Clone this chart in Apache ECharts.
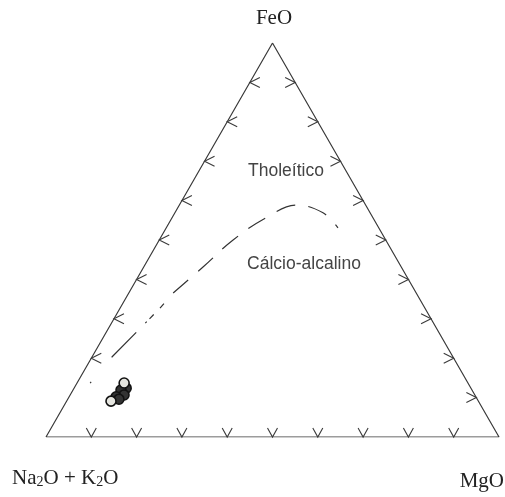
<!DOCTYPE html>
<html>
<head>
<meta charset="utf-8">
<script src="https://cdn.jsdelivr.net/npm/echarts@6/dist/echarts.min.js"></script>
<style>
  html, body { margin: 0; padding: 0; background: #fff; }
  #chart { width: 505px; height: 497px; }
</style>
</head>
<body>
<div id="chart"></div>
<script>
// AFM ternary diagram: A = Na2O + K2O, F = FeO, M = MgO (percent of A+F+M)

// Corner order: A (bottom left), F (top), M (bottom right)
const cornerAlk = [100, 0, 0, 100];
const cornerFeO = [0, 100, 0, 0];
const cornerMgO = [0, 0, 100, 0];

// Tick positions along each edge (percent)
const baseTicks = [10, 20, 30, 40, 50, 60, 70, 80, 90];
const rightTicks = [10, 20, 30, 40, 50, 60, 70, 80, 90];
const leftTicks = [20, 30, 40, 50, 60, 70, 80, 90];

// Tholeiitic / calc-alkaline boundary
const boundaryAlk = [83.4, 75.3, 66.6, 58.5, 53.7, 43.8, 33.7, 23.3, 15.2, 10.4, 9.0];
const boundaryFeO = [13.7, 20.3, 26.7, 32.7, 36.6, 43.2, 50.0, 55.8, 58.9, 56.9, 53.1];
const boundaryMgO = [2.9, 4.4, 6.7, 8.8, 9.8, 13.1, 16.3, 20.9, 26.0, 32.7, 37.9];
const boundarySplit = 4; // dash-dot part ends here, dashed part starts

// Samples (two fill groups)
const darkAlk = [76.1, 77.5, 77.5, 79.5, 79.1];
const darkFeO = [12.4, 11.9, 10.7, 10.2, 9.6];
const darkMgO = [11.5, 10.6, 11.9, 10.4, 11.3];
const openAlk = [75.9, 81.1];
const openFeO = [13.7, 9.1];
const openMgO = [10.4, 9.8];

const H = Math.sqrt(3) / 2;
function toXY(a, f, m) {
  const s = a + f + m;
  return [(m + f / 2) / s, (f / s) * H];
}
function series3(A, F, M) {
  return A.map((a, i) => toXY(a, F[i], M[i]));
}

// tick data: [x, y, side]  side 0 = base, 1 = left edge, 2 = right edge
const tickData = [];
baseTicks.forEach(t => tickData.push([...toXY(100 - t, 0, t), 0]));
leftTicks.forEach(t => tickData.push([...toXY(100 - t, t, 0), 1]));
rightTicks.forEach(t => tickData.push([...toXY(0, t, 100 - t), 2]));

const boundary = series3(boundaryAlk, boundaryFeO, boundaryMgO);
const boundaryLow = boundary.slice(0, boundarySplit + 1);
const boundaryHigh = boundary.slice(boundarySplit);

const chart = echarts.init(document.getElementById('chart'));
chart.setOption({
  animation: false,
  backgroundColor: '#fff',
  grid: { left: 46, right: 6, top: 43, bottom: 60 },
  xAxis: { type: 'value', min: 0, max: 1, show: false },
  yAxis: { type: 'value', min: 0, max: H, show: false },
  series: [
    {
      type: 'line',
      data: series3(cornerAlk, cornerFeO, cornerMgO),
      symbol: 'none',
      lineStyle: { color: '#3a3a3a', width: 1.2 },
      z: 2
    },
    {
      type: 'custom',
      data: tickData,
      renderItem: function (params, api) {
        const p = api.coord([api.value(0), api.value(1)]);
        const side = api.value(2);
        let pts;
        if (side === 0) pts = [[p[0] - 5, p[1] - 9], p, [p[0] + 5, p[1] - 9]];
        else if (side === 1) pts = [[p[0] + 10, p[1] - 5], p, [p[0] + 10, p[1] + 5]];
        else pts = [[p[0] - 10, p[1] - 5], p, [p[0] - 10, p[1] + 5]];
        return {
          type: 'polyline',
          shape: { points: pts },
          style: { stroke: '#3a3a3a', lineWidth: 1.1, fill: null }
        };
      },
      z: 3
    },
    {
      type: 'line',
      data: boundaryLow,
      symbol: 'none',
      lineStyle: { color: '#333', width: 1.2, type: [1.5, 32, 35, 13, 2, 4, 6, 9, 6, 200] },
      z: 3
    },
    {
      type: 'line',
      data: boundaryHigh,
      smooth: 0.4,
      symbol: 'none',
      lineStyle: { color: '#333', width: 1.2, type: [20, 13] },
      z: 3
    },
    {
      type: 'scatter',
      data: series3(darkAlk, darkFeO, darkMgO),
      symbol: 'circle',
      symbolSize: 10,
      itemStyle: { color: '#333', borderColor: '#111', borderWidth: 1.5, opacity: 1 },
      z: 4
    },
    {
      type: 'scatter',
      data: series3(openAlk, openFeO, openMgO),
      symbol: 'circle',
      symbolSize: 10,
      itemStyle: { color: '#e6e6e0', borderColor: '#111', borderWidth: 1.6, opacity: 1 },
      z: 5
    }
  ],
  graphic: [
    {
      type: 'text', x: 274, y: 8,
      style: { text: 'FeO', font: '21px "Liberation Serif", serif', fill: '#222', align: 'center' }
    },
    {
      type: 'text', x: 12, y: 468,
      style: {
        text: '{n|Na}{s|2}{n|O + K}{s|2}{n|O}',
        fill: '#222',
        rich: {
          n: { font: '21px "Liberation Serif", serif', fill: '#222', verticalAlign: 'bottom' },
          s: { font: '14px "Liberation Serif", serif', fill: '#222', verticalAlign: 'bottom' }
        }
      }
    },
    {
      type: 'text', x: 504, y: 471,
      style: { text: 'MgO', font: '21px "Liberation Serif", serif', fill: '#222', align: 'right' }
    },
    {
      type: 'text', x: 286, y: 162,
      style: { text: 'Tholeítico', font: '17.5px "Liberation Sans", Arial, sans-serif', fill: '#444', align: 'center' }
    },
    {
      type: 'text', x: 304, y: 255,
      style: { text: 'Cálcio-alcalino', font: '17.5px "Liberation Sans", Arial, sans-serif', fill: '#444', align: 'center' }
    }
  ]
});
</script>
</body>
</html>
